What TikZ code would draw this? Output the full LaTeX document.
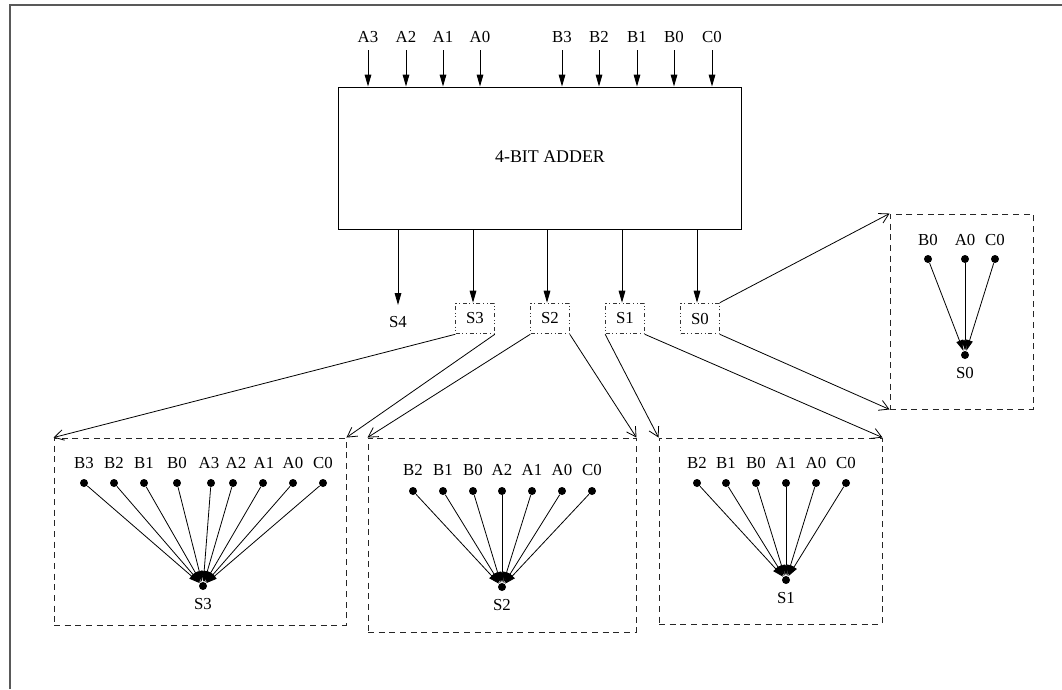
\documentclass[tikz,border=0pt]{standalone}
\usepackage{fontspec}
\setmainfont{Liberation Serif}
\usetikzlibrary{arrows.meta}
\begin{document}
\begin{tikzpicture}[x=0.75pt,y=-0.75pt,
  every path/.style={line width=0.7pt},
  lbl/.style={font=\fontsize{12.6}{15}\selectfont, inner sep=0pt},
  sigarrow/.style={-{Triangle[length=9pt,width=5pt]}},
  fan/.style={-{Triangle[length=8pt,width=5pt]}, line width=0.6pt},
  zoomarrow/.style={-{Straight Barb[length=7pt,width=8pt]}, line width=0.6pt},
  dot/.style={circle, fill=black, inner sep=0pt, minimum size=6pt},
  sbox/.style={draw=black!80, dash dot dot, minimum width=29pt, minimum height=23pt, inner sep=0pt, font=\fontsize{12.6}{15}\selectfont},
  bigbox/.style={draw=black!85, dashed, dash pattern=on 4.5pt off 3.5pt, inner sep=0pt}
]
\useasboundingbox (0,0) rectangle (1062,689);
% outer frame
\draw[draw=black!65, line width=1.3pt] (10,689) -- (10,5) -- (1062,5);

% adder
\node[draw, minimum width=302.25pt, minimum height=106.5pt, inner sep=0pt] (adder) at (539.5,158) {};
\node[inner sep=0pt, font=\fontsize{13.4}{16}\selectfont] (addtxt) at (550,157) {4-BIT ADDER};

% inputs
\foreach \t/\x in {A3/368, A2/406, A1/443, A0/480, B3/562, B2/599, B1/637, B0/674, C0/712} {
  \node[lbl] (in\t) at (\x,37) {\t};
  \draw[sigarrow] (in\t.south) ++(0,7) -- (in\t |- adder.north);
}

% outputs
\node[lbl] (s4) at (398,322) {S4};
\coordinate (s4top) at (398,305);
\draw[sigarrow] (s4top |- adder.south) -- (s4top);
\node[sbox] (s3) at (475,318.5) {S3};
\node[sbox] (s2) at (550,318.5) {S2};
\node[sbox] (s1) at (625,318.5) {S1};
\node[sbox] (s0) at (700,318.5) {S0};
\foreach \n/\x in {s3/473, s2/547, s1/622, s0/697} {
  \coordinate (o\n) at (\x,229);
  \draw[sigarrow] (o\n) -- (o\n |- \n.north);
}

% big boxes
\node[bigbox, minimum width=219pt, minimum height=140.25pt] (b3) at (200,531.5) {};
\node[bigbox, minimum width=201pt, minimum height=145.5pt] (b2) at (502,535) {};
\node[bigbox, minimum width=167.25pt, minimum height=139.5pt] (b1) at (770.5,531) {};
\node[bigbox, minimum width=107.25pt, minimum height=146.25pt] (b0) at (961.5,311.5) {};

% zoom connectors
\draw[zoomarrow] (s3.south west) -- (b3.north west);
\draw[zoomarrow] (s3.south east) -- (b3.north east);
\draw[zoomarrow] (s2.south west) -- (b2.north west);
\draw[zoomarrow] (s2.south east) -- (b2.north east);
\draw[zoomarrow] (s1.south west) -- (b1.north west);
\draw[zoomarrow] (s1.south east) -- (b1.north east);
\draw[zoomarrow] (s0.north east) -- (b0.north west);
\draw[zoomarrow] (s0.south east) -- (b0.south west);

% S3 fan
\node[dot] (t3) at (203,586) {};
\node[lbl] (t3l) at (203,604) {S3};
\foreach \t/\x/\lx [count=\i] in {B3/84/84, B2/114/114, B1/144/144, B0/177/177, A3/211/209, A2/233/236, A1/263/264, A0/293/293, C0/323/323} {
  \node[dot] (d3\i) at (\x,483) {};
  \node[lbl] (l3\i) at (\lx,463) {\t};
  \draw[fan] (d3\i) -- (t3);
}

% S2 fan
\node[dot] (t2) at (502,587) {};
\node[lbl] (t2l) at (502,605) {S2};
\foreach \t/\x [count=\i] in {B2/413, B1/443, B0/473, A2/502, A1/532, A0/562, C0/592} {
  \node[dot] (d2\i) at (\x,491) {};
  \node[lbl] (l2\i) at (\x,470) {\t};
  \draw[fan] (d2\i) -- (t2);
}

% S1 fan
\node[dot] (t1) at (786,580) {};
\node[lbl] (t1l) at (786,598) {S1};
\foreach \t/\x [count=\i] in {B2/697, B1/726, B0/756, A1/786, A0/816, C0/846} {
  \node[dot] (d1\i) at (\x,483) {};
  \node[lbl] (l1\i) at (\x,463) {\t};
  \draw[fan] (d1\i) -- (t1);
}

% S0 fan
\node[dot] (t0) at (965,355) {};
\node[lbl] (t0l) at (965,373) {S0};
\foreach \t/\x [count=\i] in {B0/928, A0/965, C0/995} {
  \node[dot] (d0\i) at (\x,259) {};
  \node[lbl] (l0\i) at (\x,240) {\t};
  \draw[fan] (d0\i) -- (t0);
}
\end{tikzpicture}
\end{document}
